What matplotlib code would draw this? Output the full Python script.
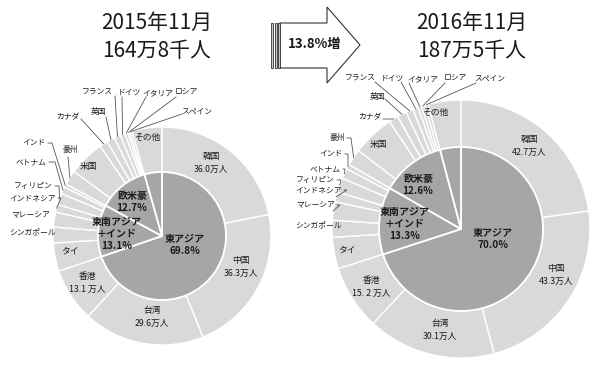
import matplotlib
matplotlib.use("Agg")
import matplotlib.pyplot as plt
from matplotlib.patches import Polygon, Rectangle
import numpy as np

plt.rcParams['font.family'] = ['Noto Sans CJK JP', 'DejaVu Sans']

# ---------------- data ----------------
countries = ["韓国", "中国", "台湾", "香港", "タイ", "シンガポール", "マレーシア",
             "インドネシア", "フィリピン", "ベトナム", "インド", "豪州", "米国",
             "カナダ", "英国", "フランス", "ドイツ", "イタリア", "ロシア", "スペイン", "その他"]
values_2015 = [36.0, 36.3, 29.6, 13.1, 6.9, 3.9, 3.6, 1.9, 2.8, 1.7, 0.8,
               3.6, 8.8, 2.0, 2.0, 1.5, 1.2, 0.7, 0.5, 0.6, 7.3]
values_2016 = [42.7, 43.3, 30.1, 15.2, 7.4, 4.0, 4.3, 2.3, 3.4, 2.4, 1.1,
               3.9, 9.9, 2.2, 2.2, 1.7, 1.3, 0.8, 0.8, 0.8, 7.7]
regions = ["東アジア", "東南アジア\n＋インド", "欧米豪", "その他"]
region_pct_2015 = [69.8, 13.1, 12.7, 4.4]
region_pct_2016 = [70.0, 13.3, 12.6, 4.1]
titles = ["2015年11月\n164万8千人", "2016年11月\n187万5千人"]
growth_label = "13.8%増"
value_labels_2015 = {"韓国": "36.0万人", "中国": "36.3万人", "台湾": "29.6万人", "香港": "13.1 万人"}
value_labels_2016 = {"韓国": "42.7万人", "中国": "43.3万人", "台湾": "30.1万人", "香港": "15. 2 万人"}

OUTER = "#d9d9d9"
INNER = "#a6a6a6"
TXT = "#1a1a1a"
LINE = "#555555"

fig = plt.figure(figsize=(6, 3.75), dpi=100)
ax = fig.add_axes([0, 0, 1, 1])

H = 375
def Y(y):
    return H - y

def draw_chart(cx, cy, R, r_in, vals, reg, vlabels, inside_pos, leader, region_pos):
    c = (cx, Y(cy))
    ax.pie(vals, radius=R, center=c, startangle=90, counterclock=False,
           colors=[OUTER] * len(vals),
           wedgeprops=dict(width=R - r_in, edgecolor="white", linewidth=1.0))
    ax.pie(reg, radius=r_in, center=c, startangle=90, counterclock=False,
           colors=[INNER] * len(reg),
           wedgeprops=dict(edgecolor="white", linewidth=1.3))
    total = sum(vals)
    cum = np.cumsum([0] + list(vals))
    # in-slice labels
    for name, (tx, ty) in inside_pos.items():
        s = name if name not in vlabels else name + "\n" + vlabels[name]
        ax.text(tx, Y(ty), s, ha="center", va="center", fontsize=6.3,
                color=TXT, linespacing=1.45)
    # leader labels
    for name, (tx, ty, ha, sx, sy, ex) in leader.items():
        ax.text(tx, Y(ty), name, ha=ha, va="center", fontsize=5.6, color=TXT)
        i = countries.index(name)
        mid = (cum[i] + cum[i + 1]) / 2 / total
        th = np.deg2rad(90 - 360 * mid)
        px, py = cx + R * np.cos(th), Y(cy) + R * np.sin(th)
        if sx is None:
            continue
        xs = [sx]
        ys = [Y(sy)]
        if ex is not None:
            xs.append(ex)
            ys.append(Y(sy))
        xs.append(px)
        ys.append(py)
        ax.plot(xs, ys, color=LINE, lw=0.6)
    # region labels
    for lab, pct, (tx, ty) in zip(regions[:3], reg[:3], region_pos):
        ax.text(tx, Y(ty), f"{lab}\n{pct:.1f}%", ha="center", va="center",
                fontsize=7.2, fontweight="bold", color=TXT, linespacing=1.2)

# ---- left chart (2015)
inside_L = {"韓国": (211, 163), "中国": (241, 267), "台湾": (152, 317),
            "香港": (87, 283), "タイ": (70, 251), "米国": (88, 167), "その他": (147, 137)}
leader_L = {
    "シンガポール": (56, 232, "right", None, None, None),
    "マレーシア": (50, 215, "right", None, None, None),
    "インドネシア": (56, 198, "right", 58, 198, 61),
    "フィリピン": (53, 186, "right", 55, 186, 59),
    "ベトナム": (47, 162, "right", 49, 162, 55),
    "インド": (46, 143, "right", 48, 143, 52),
    "豪州": (70, 150, "center", 68, 157, None),
    "カナダ": (68, 117, "center", 81, 119, None),
    "英国": (98, 112, "center", 106, 117, None),
    "フランス": (97, 93, "center", 115, 96, None),
    "ドイツ": (129, 93, "center", 122, 97, None),
    "イタリア": (158, 93, "center", 146, 97, None),
    "ロシア": (187, 93, "center", 176, 97, None),
    "スペイン": (197, 112, "center", 182, 114, None),
}
region_L = [(185, 245), (117, 234), (132, 202)]
draw_chart(162, 236, 109, 64, values_2015, region_pct_2015, value_labels_2015,
           inside_L, leader_L, region_L)

# ---- right chart (2016)
inside_R = {"韓国": (529, 146), "中国": (556, 275), "台湾": (440, 330),
            "香港": (371, 287), "タイ": (347, 250), "米国": (378, 145), "その他": (435, 112)}
leader_R = {
    "シンガポール": (342, 225, "right", None, None, None),
    "マレーシア": (335, 205, "right", 337, 205, 340),
    "インドネシア": (342, 190, "right", 344, 190, 347),
    "フィリピン": (335, 180, "right", 337, 180, 341),
    "ベトナム": (341, 169, "right", 343, 169, 345),
    "インド": (343, 154, "right", 345, 154, 348),
    "豪州": (345, 138, "right", 347, 138, 351),
    "カナダ": (370, 117, "center", 383, 119, 392),
    "英国": (377, 97, "center", 385, 99, None),
    "フランス": (360, 79, "center", 375, 82, None),
    "ドイツ": (392, 79, "center", 401, 82, None),
    "イタリア": (423, 79, "center", 409, 83, None),
    "ロシア": (456, 79, "center", 445, 83, None),
    "スペイン": (490, 79, "center", 476, 83, None),
}
region_R = [(493, 239), (405, 224), (418, 185)]
draw_chart(461, 229, 129, 82, values_2016, region_pct_2016, value_labels_2016,
           inside_R, leader_R, region_R)

# ---- titles
ax.text(157, Y(37), titles[0], ha="center", va="center", fontsize=15,
        color=TXT, linespacing=1.35)
ax.text(472, Y(37), titles[1], ha="center", va="center", fontsize=15,
        color=TXT, linespacing=1.35)

# ---- arrow
arrow = Polygon([(280, Y(23)), (327, Y(23)), (327, Y(7)), (360, Y(45)),
                 (327, Y(83)), (327, Y(68)), (280, Y(68))],
                closed=True, facecolor="white", edgecolor="#333333", lw=0.8)
ax.add_patch(arrow)
for x0, w in [(270.5, 2.5), (274.5, 2.5), (278, 2.0)]:
    ax.add_patch(Rectangle((x0, Y(68)), w, 45, facecolor="#c8c8c8",
                           edgecolor="#333333", lw=0.6))
ax.text(315, Y(44), growth_label, ha="center", va="center", fontsize=9.5,
        fontweight="bold", color=TXT)

ax.set_xlim(0, 600)
ax.set_ylim(0, 375)
ax.set_aspect("equal")
ax.axis("off")
fig.savefig("out.png", dpi=100)
